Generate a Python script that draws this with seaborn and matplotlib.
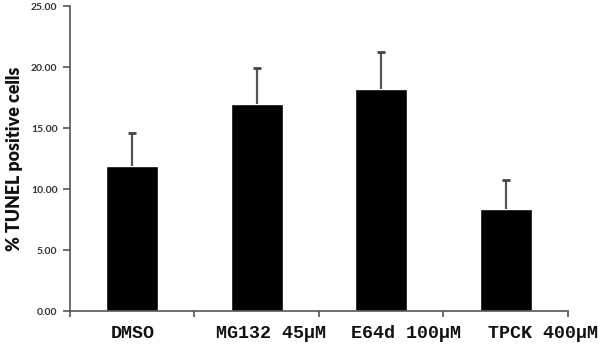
import matplotlib
matplotlib.use("Agg")
import matplotlib.pyplot as plt
import matplotlib.transforms as mtransforms
import seaborn as sns
import numpy as np
import pandas as pd
from matplotlib.ticker import FormatStrFormatter, FixedLocator

categories = ["DMSO", "MG132 45µM", "E64d 100µM", "TPCK 400µM"]
values = [11.85, 17.0, 18.2, 8.35]
errors = [2.75, 2.9, 3.05, 2.4]
yticks = [0, 5, 10, 15, 20, 25]
label_shift_px = [0, 14, 25, 37]

sns.set_style("white")
plt.rcParams['font.family'] = ['DejaVu Sans']

df = pd.DataFrame({"cat": categories, "val": values})
fig = plt.figure(figsize=(6.01, 3.47), dpi=100)
ax = fig.add_axes([0.1165, 0.1037, 0.8285, 0.879])
sns.barplot(data=df, x="cat", y="val", color="black", width=0.42,
            saturation=1, ax=ax, errorbar=None, zorder=2)
pos = np.arange(len(categories))
tops = np.add(values, errors)
ax.vlines(pos, values, tops, colors="#555555", linewidth=1.6, zorder=3)
ax.plot(pos, tops, linestyle="none", marker="_", markersize=5.5,
        markeredgewidth=2, color="#444444", zorder=3)

ax.set_xlim(-0.5, len(categories) - 0.5)
ax.set_ylim(0, 25)
ax.set_yticks(yticks)
ax.yaxis.set_major_formatter(FormatStrFormatter("%.2f"))
ax.xaxis.set_minor_locator(FixedLocator(np.arange(len(categories) + 1) - 0.5))
ax.tick_params(axis="x", which="major", length=0, pad=10)
ax.tick_params(axis="x", which="minor", length=4, width=1.2, color="#555555", direction="out", bottom=True)
ax.tick_params(axis="y", length=5, width=1.2, color="#555555", direction="out", left=True,
               labelsize=7.5, labelcolor="#333333", pad=4)
for lab in ax.get_yticklabels():
    lab.set_fontfamily("Lato")
    lab.set_fontweight("bold")
for lab, dx in zip(ax.get_xticklabels(), label_shift_px):
    lab.set_fontfamily("Liberation Mono")
    lab.set_fontweight("bold")
    lab.set_fontsize(13.2)
    lab.set_color("#111111")
    lab.set_transform(lab.get_transform() + mtransforms.Affine2D().translate(dx, 0))
ax.set_xlabel("")
ax.set_ylabel("% TUNEL positive cells", fontsize=12.8, fontweight="heavy", family="Lato",
              labelpad=6, color="#111111")
sns.despine(ax=ax)
for s in ["left", "bottom"]:
    ax.spines[s].set_color("#555555")
    ax.spines[s].set_linewidth(1.2)
fig.savefig("out.png", dpi=100)
